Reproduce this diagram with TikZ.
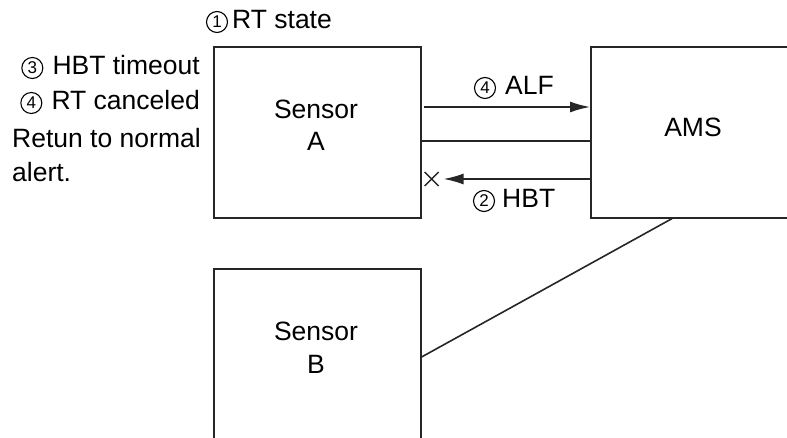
\documentclass[tikz,border=0pt]{standalone}
\usepackage{fontspec}
\setmainfont{Liberation Sans}
\usetikzlibrary{arrows.meta,calc}
\begin{document}
\begin{tikzpicture}[x=1pt,y=-1pt,
  lbl/.style={font=\fontsize{26.5}{30}\selectfont, inner sep=0pt, text=black},
  cnum/.style={circle, draw=black, line width=1.1pt, minimum size=21pt, inner sep=0pt,
    font=\fontsize{17}{17}\selectfont, text=black},
  boxy/.style={draw=black!85, line width=1.6pt, rectangle, inner sep=0pt},
  wire/.style={draw=black!85, line width=1.6pt},
  arr/.style={wire, -{Latex[length=20pt,width=11pt]}}]
\useasboundingbox (0,0) rectangle (787,438);
\clip (0,0) rectangle (787,438);
% boxes
\node[boxy, minimum width=207pt, minimum height=171pt, anchor=north west] (sa) at (213,46) {};
\node[boxy, minimum width=207pt, minimum height=220pt, anchor=north west] (sb) at (213,268) {};
\node[boxy, minimum width=230pt, minimum height=171pt, anchor=north west] (ams) at (590,46) {};
% box texts
\node[lbl, anchor=base] (sat1) at (316,119) {Sensor};
\node[lbl, anchor=base] (sat2) at (316,151) {A};
\node[lbl, anchor=base] (sbt1) at (316,341) {Sensor};
\node[lbl, anchor=base] (sbt2) at (316,373) {B};
\node[lbl, anchor=base] (amst) at (693,137) {AMS};
% side texts
\node[lbl, anchor=base west] (t1) at (232,29) {RT state};
\node[cnum] (c1) at ($(t1.base west)+(-15,-7)$) {1};
\node[lbl, anchor=base east] (t3) at (200,75) {HBT timeout};
\node[cnum] (c3) at ($(t3.base west)+(-20,-7)$) {3};
\node[lbl, anchor=base east] (t4) at (200,110) {RT canceled};
\node[cnum] (c4) at ($(t4.base west)+(-20,-7)$) {4};
\node[lbl, anchor=base west] (t5) at (12,148) {Retun to normal};
\node[lbl, anchor=base west] (t6) at (12,182) {alert.};
% connectors
\coordinate (yalf) at (0,107);
\coordinate (ymid) at (0,141);
\coordinate (yhbt) at (0,179);
\draw[arr] ($(sa.east |- yalf)+(2,0)$) -- (ams.west |- yalf);
\draw[wire] (sa.east |- ymid) -- (ams.west |- ymid);
\draw[arr] (ams.west |- yhbt) -- ($(sa.east |- yhbt)+(22,0)$);
\coordinate (xm) at ($(sa.east |- yhbt)+(10,0)$);
\draw[draw=black!85, line width=1.3pt] ($(xm)+(-7,-7)$) -- ($(xm)+(7,7)$) ($(xm)+(-7,7)$) -- ($(xm)+(7,-7)$);
\node[lbl, anchor=base west] (alf) at (505,95) {ALF};
\node[cnum] (c4b) at ($(alf.base west)+(-20,-7)$) {4};
\node[lbl, anchor=base west] (hbt) at (502,208) {HBT};
\node[cnum] (c2) at ($(hbt.base west)+(-18,-7)$) {2};
\coordinate (amsb) at ($(ams.south west)+(82,0)$);
\coordinate (sbr) at (sb.east |- 0,357);
\draw[wire] (amsb) -- (sbr);
\end{tikzpicture}
\end{document}
